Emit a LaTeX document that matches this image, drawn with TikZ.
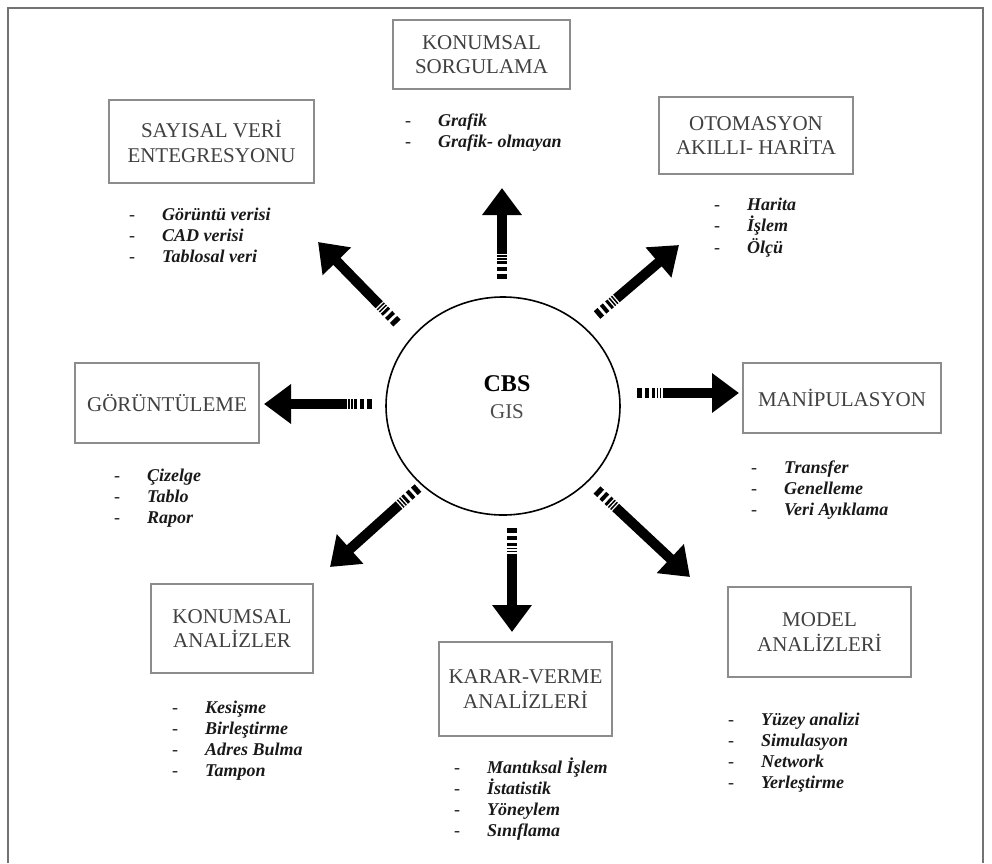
\documentclass[tikz,border=0pt]{standalone}
\usepackage{fontspec}
\setmainfont{Liberation Serif}
\usepackage{tikz}
\usetikzlibrary{shapes.geometric,arrows.meta}
\newcommand{\itm}[1]{\makebox[33pt][l]{\upshape\mdseries -}#1}
\tikzset{
  % --- boxes round the hub ----------------------------------------------------
  box/.style={rectangle,draw=black!45,line width=1.4pt,align=center,
              inner sep=2pt,font=\fontsize{21}{24.5}\selectfont,text=black!75},
  hub/.style={ellipse,draw=black,line width=1.6pt,minimum width=234pt,
              minimum height=218pt,inner sep=0pt},
  % --- item lists under the boxes ----------------------------------------------
  items/.style={anchor=base west,inner sep=0pt,text=black!90,
                font=\fontsize{18}{21}\selectfont\bfseries\itshape},
  % --- thick arrows, striped at the tail ---------------------------------------
  spoke/.style={line width=10pt,-{Triangle[length=27pt,width=38pt]},
                dash pattern=on 5pt off 3pt on 4pt off 3pt on 3pt off 1.5pt
                on 1.5pt off 1.5pt on 1.5pt off 1.5pt on 400pt off 1pt},
  frame/.style={draw=black!55,line width=2.5pt},
}
\begin{document}
\begin{tikzpicture}[x=1pt, y=-1pt]
  \useasboundingbox (0,0) rectangle (992,863);
  \draw[frame] (8,863) -- (8,8) -- (983,8) -- (983,863);

  \node[hub] (cbs) at (503,406) {};
  \node[font=\fontsize{24}{28}\selectfont\bfseries] (cbs1) at (507,384) {CBS};
  \node[font=\fontsize{21}{24}\selectfont,text=black!70] (gis) at (507,412) {GIS};

  \node[box,minimum width=177pt,minimum height=69pt] (sorg)  at (481.5,54.5) {KONUMSAL\\SORGULAMA};
  \node[box,minimum width=205pt,minimum height=83pt] (sayi)  at (211.5,141.5) {SAYISAL VERİ\\ENTEGRESYONU};
  \node[box,minimum width=194pt,minimum height=77pt] (otom)  at (756,135.5) {OTOMASYON\\AKILLI- HARİTA};
  \node[box,minimum width=184pt,minimum height=80pt] (gor)   at (167,403) {GÖRÜNTÜLEME};
  \node[box,minimum width=198pt,minimum height=70pt] (mani)  at (842,398) {MANİPULASYON};
  \node[box,minimum width=162pt,minimum height=89pt] (kana)  at (232,628.5) {KONUMSAL\\ANALİZLER};
  \node[box,minimum width=173pt,minimum height=94pt] (karar) at (525.5,689) {KARAR-VERME\\ANALİZLERİ};
  \node[box,minimum width=183pt,minimum height=90pt] (model) at (819.5,632) {MODEL\\ANALİZLERİ};

  \node[items] (l1) at (405,126) {\begin{tabular}[t]{@{}l@{}}\itm{Grafik}\\\itm{Grafik- olmayan}\end{tabular}};
  \node[items] (l2) at (129,220) {\begin{tabular}[t]{@{}l@{}}\itm{Görüntü verisi}\\\itm{CAD verisi}\\\itm{Tablosal veri}\end{tabular}};
  \node[items] (l3) at (714,210) {\begin{tabular}[t]{@{}l@{}}\itm{Harita}\\\itm{İşlem}\\\itm{Ölçü}\end{tabular}};
  \node[items] (l4) at (114,481) {\begin{tabular}[t]{@{}l@{}}\itm{Çizelge}\\\itm{Tablo}\\\itm{Rapor}\end{tabular}};
  \node[items] (l5) at (751,473) {\begin{tabular}[t]{@{}l@{}}\itm{Transfer}\\\itm{Genelleme}\\\itm{Veri Ayıklama}\end{tabular}};
  \node[items] (l6) at (172,713) {\begin{tabular}[t]{@{}l@{}}\itm{Kesişme}\\\itm{Birleştirme}\\\itm{Adres Bulma}\\\itm{Tampon}\end{tabular}};
  \node[items] (l7) at (454,773) {\begin{tabular}[t]{@{}l@{}}\itm{Mantıksal İşlem}\\\itm{İstatistik}\\\itm{Yöneylem}\\\itm{Sınıflama}\end{tabular}};
  \node[items] (l8) at (728,725) {\begin{tabular}[t]{@{}l@{}}\itm{Yüzey analizi}\\\itm{Simulasyon}\\\itm{Network}\\\itm{Yerleştirme}\end{tabular}};

  % tails next to the hub, heads towards the boxes
  \coordinate (tN)  at (502,279); \coordinate (hN)  at (502,188);
  \coordinate (tNW) at (397,323); \coordinate (hNW) at (318,242);
  \coordinate (tNE) at (597,315); \coordinate (hNE) at (679,245);
  \coordinate (tW)  at (372,404); \coordinate (hW)  at (264,404);
  \coordinate (tE)  at (637,393); \coordinate (hE)  at (739,393);
  \coordinate (tSW) at (418,488); \coordinate (hSW) at (330,567);
  \coordinate (tS)  at (512,528); \coordinate (hS)  at (512,632);
  \coordinate (tSE) at (597,490); \coordinate (hSE) at (690,577);

  \draw[spoke] (tN) -- (hN);
  \draw[spoke] (tNW) -- (hNW);
  \draw[spoke] (tNE) -- (hNE);
  \draw[spoke] (tW) -- (hW);
  \draw[spoke] (tE) -- (hE);
  \draw[spoke] (tSW) -- (hSW);
  \draw[spoke] (tS) -- (hS);
  \draw[spoke] (tSE) -- (hSE);
\end{tikzpicture}
\end{document}
